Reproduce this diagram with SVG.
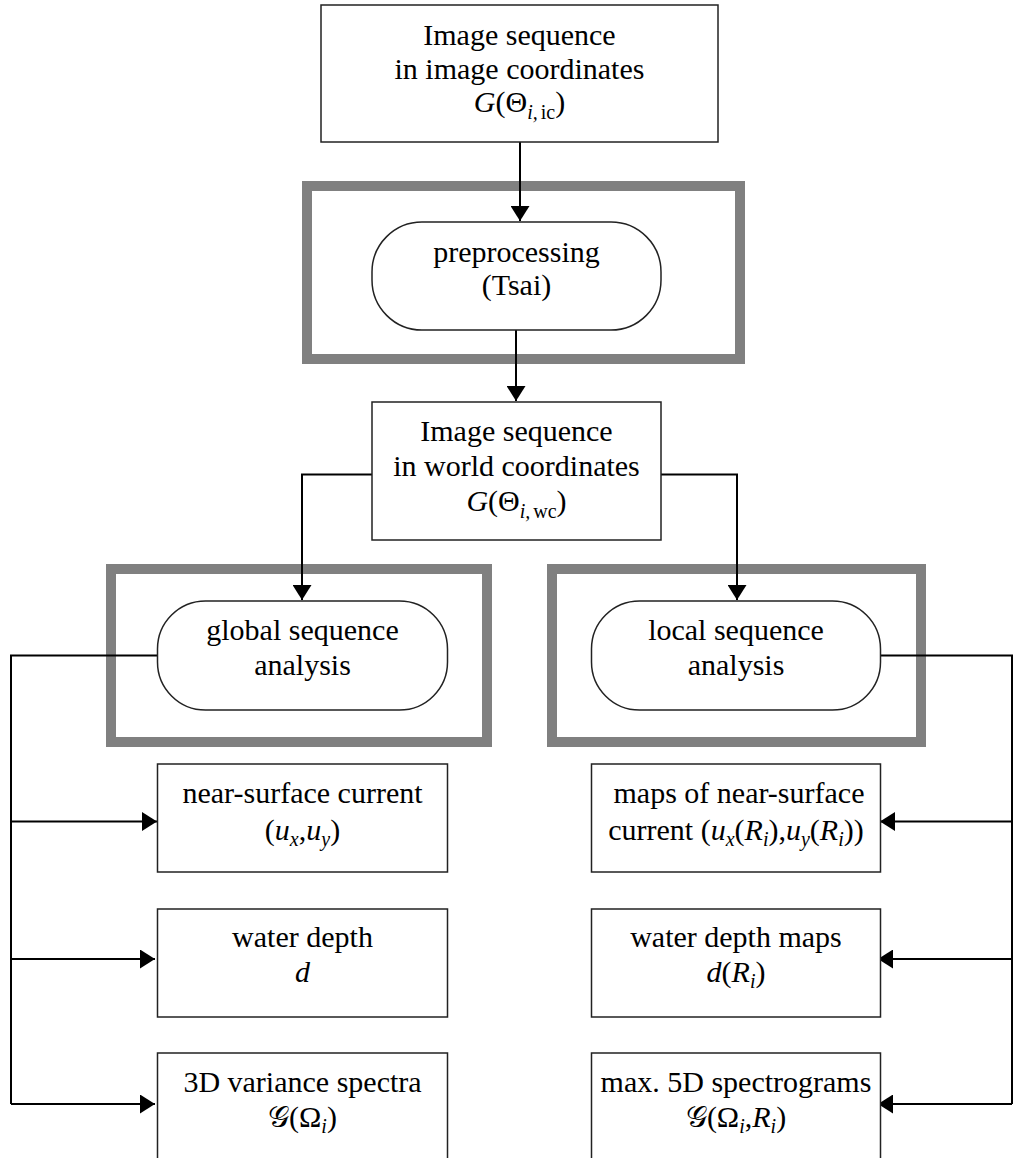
<svg xmlns="http://www.w3.org/2000/svg" width="1014" height="1158" viewBox="0 0 1014 1158">
<style>
text{font-family:"Liberation Serif","Times New Roman",serif;font-size:30px;fill:#000;text-anchor:middle}
.it{font-style:italic}
.sub{font-size:20px}
.box{fill:#fff;stroke:#222;stroke-width:1.5}
.frame{fill:none;stroke:#808080;stroke-width:10}
.conn{fill:none;stroke:#000;stroke-width:2}
</style>
<defs>
<marker id="ah" markerUnits="userSpaceOnUse" markerWidth="16" markerHeight="19" refX="15" refY="9.5" orient="auto">
<path d="M0,0 L15,9.5 L0,19 z" fill="#000"/>
</marker>
</defs>
<rect width="1014" height="1158" fill="#fff"/>

<g id="frames">
<rect class="frame" x="307" y="186" width="433" height="173"/>
<rect class="frame" x="111" y="569" width="376" height="173"/>
<rect class="frame" x="552" y="569" width="369" height="173"/>
</g>

<g id="connectors">
<path class="conn" d="M520,142 V221" marker-end="url(#ah)"/>
<path class="conn" d="M516,330 V401" marker-end="url(#ah)"/>
<path class="conn" d="M372,474.5 H302 V600" marker-end="url(#ah)"/>
<path class="conn" d="M661,474.5 H737 V600" marker-end="url(#ah)"/>
<path class="conn" d="M158,655.5 H11 V1104"/>
<path class="conn" d="M11,821.5 H157" marker-end="url(#ah)"/>
<path class="conn" d="M11,959 H155" marker-end="url(#ah)"/>
<path class="conn" d="M11,1104 H155" marker-end="url(#ah)"/>
<path class="conn" d="M880,655.5 H1012 V1104"/>
<path class="conn" d="M1012,821.5 H880" marker-end="url(#ah)"/>
<path class="conn" d="M1012,959 H878" marker-end="url(#ah)"/>
<path class="conn" d="M1012,1104 H878" marker-end="url(#ah)"/>
</g>

<g id="n-input">
<rect class="box" x="321" y="5" width="397" height="137"/>
<text x="519.5" y="45">Image sequence</text>
<text x="519.5" y="79">in image coordinates</text>
<text x="519.5" y="112"><tspan class="it">G</tspan>(Θ<tspan class="sub it" dy="7">i,</tspan><tspan class="sub" dx="3">ic</tspan><tspan dy="-7">)</tspan></text>
</g>

<g id="n-preprocessing">
<rect class="box" x="372" y="222" width="289" height="108" rx="50" ry="50"/>
<text x="516.5" y="262">preprocessing</text>
<text x="516.5" y="295">(Tsai)</text>
</g>

<g id="n-world">
<rect class="box" x="372" y="402" width="289" height="138"/>
<text x="516.5" y="441">Image sequence</text>
<text x="516.5" y="476">in world coordinates</text>
<text x="516.5" y="510.5"><tspan class="it">G</tspan>(Θ<tspan class="sub it" dy="7">i,</tspan><tspan class="sub" dx="3">wc</tspan><tspan dy="-7">)</tspan></text>
</g>

<g id="n-global">
<rect class="box" x="157.5" y="601" width="290" height="109" rx="48" ry="48"/>
<text x="302.5" y="640">global sequence</text>
<text x="302.5" y="675">analysis</text>
</g>

<g id="n-local">
<rect class="box" x="591.5" y="601" width="289" height="109" rx="48" ry="48"/>
<text x="736" y="640">local sequence</text>
<text x="736" y="675">analysis</text>
</g>

<g id="n-current">
<rect class="box" x="157.5" y="764" width="290" height="108"/>
<text x="302.5" y="803">near-surface current</text>
<text x="302.5" y="840">(<tspan class="it">u</tspan><tspan class="sub it" dy="6">x</tspan><tspan dy="-6">,</tspan><tspan class="it">u</tspan><tspan class="sub it" dy="6">y</tspan><tspan dy="-6">)</tspan></text>
</g>

<g id="n-depth">
<rect class="box" x="157.5" y="909" width="290" height="108"/>
<text x="302.5" y="947">water depth</text>
<text x="302.5" y="982" class="it">d</text>
</g>

<g id="n-spectra">
<rect class="box" x="157.5" y="1053" width="290" height="110"/>
<text x="302.5" y="1092">3D variance spectra</text>
<text x="302.5" y="1127">𝒢(Ω<tspan class="sub it" dy="6">i</tspan><tspan dy="-6">)</tspan></text>
</g>

<g id="n-current-maps">
<rect class="box" x="591.5" y="764" width="289" height="108"/>
<text x="739" y="803">maps of near-surface</text>
<text x="736" y="840">current (<tspan class="it">u</tspan><tspan class="sub it" dy="6">x</tspan><tspan dy="-6">(</tspan><tspan class="it">R</tspan><tspan class="sub it" dy="6">i</tspan><tspan dy="-6">),</tspan><tspan class="it">u</tspan><tspan class="sub it" dy="6">y</tspan><tspan dy="-6">(</tspan><tspan class="it">R</tspan><tspan class="sub it" dy="6">i</tspan><tspan dy="-6">))</tspan></text>
</g>

<g id="n-depth-maps">
<rect class="box" x="591.5" y="909" width="289" height="108"/>
<text x="736" y="947">water depth maps</text>
<text x="736" y="982"><tspan class="it">d</tspan>(<tspan class="it">R</tspan><tspan class="sub it" dy="6">i</tspan><tspan dy="-6">)</tspan></text>
</g>

<g id="n-spectrograms">
<rect class="box" x="591.5" y="1053" width="289" height="110"/>
<text x="736" y="1092">max. 5D spectrograms</text>
<text x="736" y="1127">𝒢(Ω<tspan class="sub it" dy="6">i</tspan><tspan dy="-6">,</tspan><tspan class="it">R</tspan><tspan class="sub it" dy="6">i</tspan><tspan dy="-6">)</tspan></text>
</g>
</svg>
